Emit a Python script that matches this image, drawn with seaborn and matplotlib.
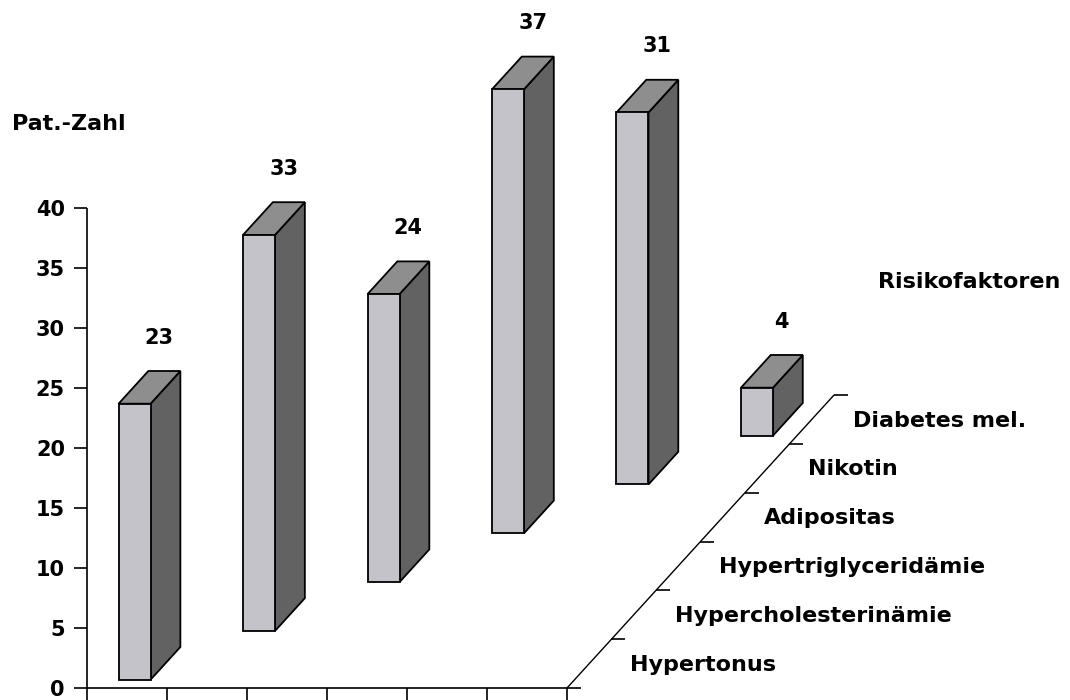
import matplotlib
matplotlib.use("Agg")
import matplotlib.pyplot as plt
from matplotlib.patches import Polygon
import seaborn as sns

# Risk factors (depth axis) and patient counts
categories = ["Hypertonus", "Hypercholesterinämie", "Hypertriglyceridämie",
              "Adipositas", "Nikotin", "Diabetes mel."]
patients = [23, 33, 24, 37, 31, 4]
y_ticks = [0, 5, 10, 15, 20, 25, 30, 35, 40]
y_title = "Pat.-Zahl"
z_title = "Risikofaktoren"

sns.set_theme(style="white")
plt.rcParams["font.family"] = ["DejaVu Sans"]
plt.rcParams["font.weight"] = "bold"
plt.rcParams["text.color"] = "black"

FRONT = "#c4c3c9"
TOP = "#8e8e8e"
SIDE = "#626262"
EDGE = "black"

# Oblique projection: one depth step moves right and up
DX, DY = 0.556, 4.067


def proj(x, z, v):
    return (x + z * DX, v + z * DY)


fig = plt.figure(figsize=(10.7, 7.0), dpi=100)
ax = fig.add_axes([0, 0, 1, 1])
ax.set_xlim(-1.0875, 12.2875)
ax.set_ylim(-1.0, 688 / 12)
ax.axis("off")

n = len(categories)
line_kw = dict(color="black", lw=1.2, solid_capstyle="butt", clip_on=False)

# value axis
ax.plot([0, 0], [0, max(y_ticks)], **line_kw)
for t in y_ticks:
    ax.plot([-0.16, 0], [t, t], **line_kw)
    ax.annotate(str(t), xy=(0, t), xytext=(-22, -7.5), textcoords="offset pixels",
                ha="right", va="baseline", fontsize=15, fontweight="bold")

# horizontal floor axis with downward ticks
ax.plot([0, n], [0, 0], **line_kw)
for k in range(n + 1):
    ax.plot([k, k], [0, -1.2], **line_kw)

# depth axis along the floor
p0 = proj(n, 0, 0)
p1 = proj(n, n, 0)
ax.plot([p0[0], p1[0]], [p0[1], p1[1]], color="black", lw=1.0, clip_on=False)
for z in range(n + 1):
    px, py = proj(n, z, 0)
    ax.plot([px, px + 0.175], [py, py], **line_kw)

for i, name in enumerate(categories):
    ax.annotate(name, xy=proj(n, i + 0.5, 0), xytext=(41, -7), textcoords="offset pixels",
                ha="left", va="baseline", fontsize=16, fontweight="bold")

# 3D bars, drawn from back to front
for i in reversed(range(n)):
    v = patients[i]
    x0, x1 = i + 0.3, i + 0.7
    zf, zb = i + 0.17, i + 0.84
    front = [proj(x0, zf, 0), proj(x1, zf, 0), proj(x1, zf, v), proj(x0, zf, v)]
    side = [proj(x1, zf, 0), proj(x1, zb, 0), proj(x1, zb, v), proj(x1, zf, v)]
    top = [proj(x0, zf, v), proj(x1, zf, v), proj(x1, zb, v), proj(x0, zb, v)]
    for pts, col in ((side, SIDE), (top, TOP), (front, FRONT)):
        ax.add_patch(Polygon(pts, closed=True, facecolor=col, edgecolor=EDGE,
                             lw=1.3, joinstyle="miter"))
    ax.annotate(str(v), xy=proj(i + 0.5, i + 0.5, v), xytext=(10, 44),
                textcoords="offset pixels", ha="center", va="baseline",
                fontsize=15, fontweight="bold")

# axis titles
ax.annotate(y_title, xy=(12, 700 - 130), xycoords="figure pixels",
            ha="left", va="baseline", fontsize=16, fontweight="bold")
ax.annotate(z_title, xy=(878, 700 - 288), xycoords="figure pixels",
            ha="left", va="baseline", fontsize=16, fontweight="bold")

fig.savefig("out.png", dpi=100, facecolor="white")
